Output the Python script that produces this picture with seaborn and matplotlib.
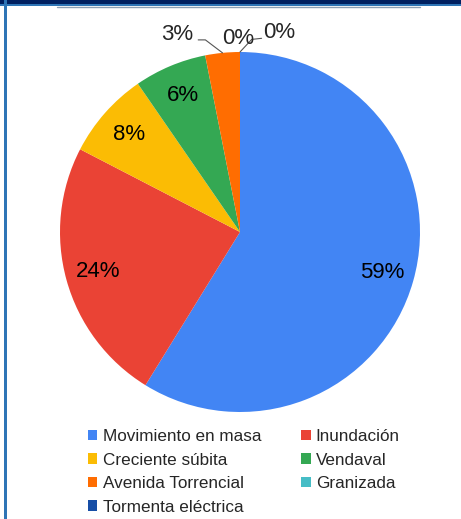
import matplotlib.pyplot as plt
import numpy as np
import seaborn as sns
from matplotlib.lines import Line2D
from matplotlib.patches import Rectangle

categories = [
    "Movimiento en masa",
    "Inundación",
    "Creciente súbita",
    "Vendaval",
    "Avenida Torrencial",
    "Granizada",
    "Tormenta eléctrica",
]
values = [58.8, 23.8, 7.8, 6.5, 3.1, 0.0, 0.0]
colors = ["#4285F4", "#EA4335", "#FBBC04", "#34A853", "#FF6D01", "#46BDC6", "#174EA6"]

sns.set_style("white")
plt.rcParams["font.family"] = ["Liberation Sans", "DejaVu Sans"]

W, H = 461, 519
fig = plt.figure(figsize=(W / 100, H / 100), dpi=100)

# pie centre (240, 232) px, radius 180 px
ax = fig.add_axes([(240 - 180) / W, (H - 412) / H, 360 / W, 360 / H])

total = sum(values)
pct_size = 16


def fmt(p):
    return f"{p:.0f}%" if p >= 5 else ""


wedges, _, autotexts = ax.pie(
    values,
    colors=colors,
    startangle=90,
    counterclock=False,
    autopct=fmt,
    pctdistance=0.82,
    textprops={"fontsize": pct_size, "color": "black"},
    wedgeprops={"linewidth": 0},
)
ax.set_aspect("equal")
ax.set_xlim(-1, 1)
ax.set_ylim(-1, 1)


def edge_point(w):
    a = np.deg2rad((w.theta1 + w.theta2) / 2)
    return np.cos(a), np.sin(a)


# small slices: labels outside, some with leader lines
lead = {4: ([-0.095, -0.135], [0.072, 0.072]), 6: ([0.065, 0.12], [0.07, 0.076])}
offsets = {4: (-0.25, 0.10), 5: (-0.01, 0.075), 6: (0.22, 0.11)}
for i in [4, 5, 6]:
    x0, y0 = edge_point(wedges[i])
    if i in lead:
        lx, ly = lead[i]
        ax.plot([x0, x0 + lx[0], x0 + lx[1]], [y0, y0 + ly[0], y0 + ly[1]],
                color="#555555", lw=0.8, clip_on=False)
    dx, dy = offsets[i]
    pct = values[i] / total * 100
    ax.text(x0 + dx, y0 + dy, f"{pct:.0f}%", ha="center", va="center",
            fontsize=pct_size, clip_on=False)

# legend, row-major order in two columns
order = [0, 2, 4, 6, 1, 3, 5]
fig.legend(
    [wedges[i] for i in order],
    [categories[i] for i in order],
    ncol=2,
    loc="upper left",
    bbox_to_anchor=(88 / W, 1 - 429 / H),
    frameon=False,
    fontsize=12.3,
    handlelength=0.55,
    handleheight=0.55,
    handletextpad=0.3,
    columnspacing=2.35,
    labelspacing=0.5,
    borderaxespad=0,
    borderpad=0,
)

# frame decoration
fig.add_artist(Rectangle((0, 1 - 4 / H), 1, 4 / H, transform=fig.transFigure,
                         color="#002060", lw=0))
fig.add_artist(Rectangle((0, 1 - 6 / H), 1, 2 / H, transform=fig.transFigure,
                         color="#2E75B6", lw=0))
fig.add_artist(Rectangle((4 / W, 0), 3 / W, 1, transform=fig.transFigure,
                         color="#2E75B6", lw=0))
fig.add_artist(Line2D([57 / W, 420 / W], [1 - 7 / H, 1 - 7 / H],
                      transform=fig.transFigure, color="#8EA0B4", lw=1))

fig.savefig("out.png", dpi=100)
